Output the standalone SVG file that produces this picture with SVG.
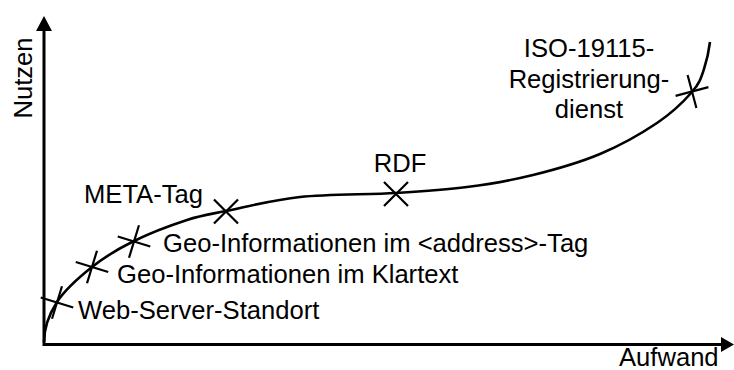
<svg xmlns="http://www.w3.org/2000/svg" width="734" height="370" viewBox="0 0 734 370">
  <style>
    text { font-family: "Liberation Sans", Arial, Helvetica, sans-serif; font-size: 25.6px; fill: #000; }
    .axis { stroke: #000; stroke-width: 3; fill: none; }
    .curve { stroke: #000; stroke-width: 2.6; fill: none; }
    .cross { stroke: #000; stroke-width: 2.2; fill: none; }
    .head { fill: #000; stroke: none; }
  </style>
  <defs>
    <path id="plus" d="M-17,0 H17 M0,-17 V17"/>
  </defs>
  <rect width="734" height="370" fill="#fff"/>

  <g id="axes">
    <path class="axis" d="M44,346 V30"/>
    <polygon class="head" points="44,16 36,31 52,31"/>
    <path class="axis" d="M43,344.5 H723"/>
    <polygon class="head" points="734,344.5 721,337 721,352"/>
    <text id="label-nutzen" transform="translate(32,78) rotate(-90)" text-anchor="middle">Nutzen</text>
    <text id="label-aufwand" x="619" y="366">Aufwand</text>
  </g>

  <g id="connectors">
    <path class="curve" d="M44,342 C44,328 49,314.5 57,302 C65,289.5 79.2,277.2 92,267 C104.8,256.8 118.2,248.8 134,241 C149.8,233.2 171.7,225 187,220 C202.3,215 207.2,214.8 226,211 C244.8,207.2 271.7,200 300,197 C328.3,194 368.2,194.7 396,193 C423.8,191.3 444.2,190 467,187 C489.8,184 510.8,180.5 533,175 C555.2,169.5 579.3,162.7 600,154 C620.7,145.3 641.7,133.3 657,123 C672.3,112.7 684.3,100.8 692,92 C699.7,83.2 701,78 704,69 C707,60 709,50 710,42"/>
  </g>

  <g id="web-server-standort">
    <use href="#plus" class="cross" transform="translate(57,302.5) rotate(17)"/>
    <text x="78" y="319">Web-Server-Standort</text>
  </g>
  <g id="geo-klartext">
    <use href="#plus" class="cross" transform="translate(92,267) rotate(17)"/>
    <text x="117" y="283">Geo-Informationen im Klartext</text>
  </g>
  <g id="geo-address">
    <use href="#plus" class="cross" transform="translate(134,241.5) rotate(17)"/>
    <text x="163" y="252">Geo-Informationen im &lt;address&gt;-Tag</text>
  </g>
  <g id="meta-tag">
    <use href="#plus" class="cross" transform="translate(226,211.5) rotate(45)"/>
    <text x="84" y="203">META-Tag</text>
  </g>
  <g id="rdf">
    <use href="#plus" class="cross" transform="translate(396,194) rotate(45)"/>
    <text x="400" y="172" text-anchor="middle">RDF</text>
  </g>
  <g id="iso-19115">
    <use href="#plus" class="cross" transform="translate(692,91.5) rotate(-15)"/>
    <text x="589" y="57" text-anchor="middle">ISO-19115-</text>
    <text x="589" y="88" text-anchor="middle">Registrierung-</text>
    <text x="589" y="118" text-anchor="middle">dienst</text>
  </g>
</svg>
